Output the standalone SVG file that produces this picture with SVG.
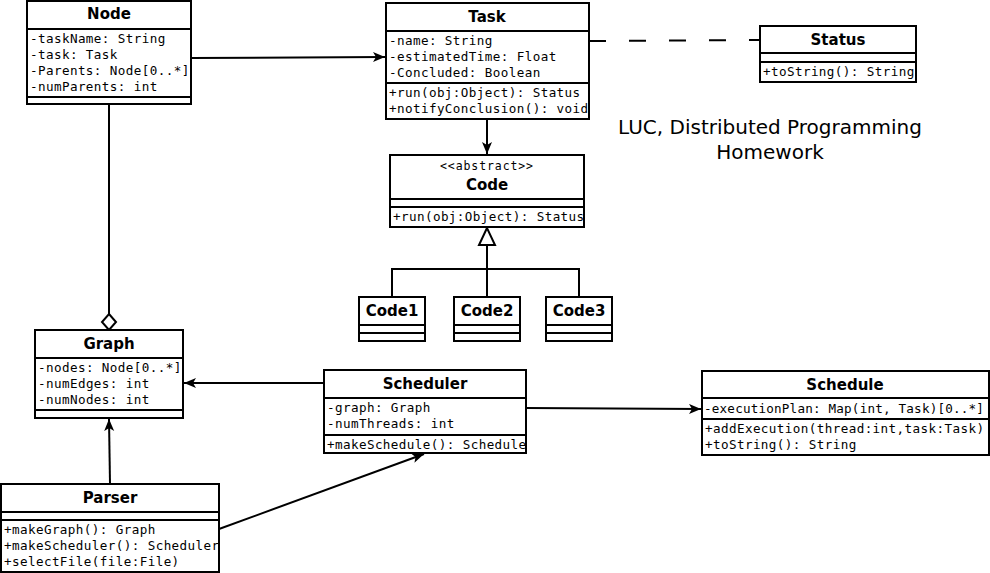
<svg xmlns="http://www.w3.org/2000/svg" width="990" height="573" viewBox="0 0 990 573">
<style>
.box{fill:#fff;stroke:#000;stroke-width:2}
.div{stroke:#000;stroke-width:2;fill:none}
.t{font-family:"DejaVu Sans",sans-serif;font-weight:bold;font-size:15px;text-anchor:middle;fill:#000}
.m{font-family:"DejaVu Sans Mono",monospace;font-size:12.6px;letter-spacing:0.4px;fill:#000}
.st{font-family:"DejaVu Sans Mono",monospace;font-size:11.5px;letter-spacing:0.9px;text-anchor:middle;fill:#000}
.lbl{font-family:"DejaVu Sans",sans-serif;font-size:20px;text-anchor:middle;fill:#000}
.c{stroke:#000;stroke-width:2;fill:none}
</style>
<defs>
<marker id="arr" markerUnits="userSpaceOnUse" markerWidth="13" markerHeight="11" refX="12" refY="5" orient="auto" viewBox="0 0 13 11">
<path d="M0,0 L12,5 L0,10 L3,5 z" fill="#000"/>
</marker>
</defs>
<rect width="990" height="573" fill="#fff"/>
<g id="connectors">
<line class="c" x1="191" y1="58" x2="385" y2="57" marker-end="url(#arr)"/>
<line class="c" x1="487" y1="119" x2="487" y2="154" marker-end="url(#arr)"/>
<line class="c" x1="589" y1="41" x2="760" y2="40" stroke-dasharray="17 23"/>
<path class="c" d="M487,245 V297 M392,297 V269 H579 V297"/>
<polygon points="487,228 479,245 495,245" fill="#fff" stroke="#000" stroke-width="2"/>
<line class="c" x1="109" y1="104" x2="109" y2="314"/>
<polygon points="109,314 116,322 109,330 102,322" fill="#fff" stroke="#000" stroke-width="2"/>
<line class="c" x1="324" y1="383" x2="184" y2="383" marker-end="url(#arr)"/>
<line class="c" x1="110" y1="484" x2="109" y2="419" marker-end="url(#arr)"/>
<line class="c" x1="219" y1="529" x2="424" y2="454" marker-end="url(#arr)"/>
<line class="c" x1="526" y1="408" x2="701" y2="409" marker-end="url(#arr)"/>
</g>
<g id="node-Node">
<rect class="box" x="27" y="1" width="164" height="103"/>
<path class="div" d="M27,29 H191 M27,97 H191"/>
<text class="t" x="109" y="19">Node</text>
<text class="m" x="30" y="43">-taskName: String</text>
<text class="m" x="30" y="59">-task: Task</text>
<text class="m" x="30" y="75">-Parents: Node[0..*]</text>
<text class="m" x="30" y="91">-numParents: int</text>
</g>
<g id="node-Task">
<rect class="box" x="386" y="3" width="203" height="116"/>
<path class="div" d="M386,31 H589 M386,83 H589"/>
<text class="t" x="487" y="22">Task</text>
<text class="m" x="389" y="45">-name: String</text>
<text class="m" x="389" y="61">-estimatedTime: Float</text>
<text class="m" x="389" y="77">-Concluded: Boolean</text>
<text class="m" x="389" y="97">+run(obj:Object): Status</text>
<text class="m" x="389" y="113">+notifyConclusion(): void</text>
</g>
<g id="node-Status">
<rect class="box" x="760" y="26" width="156" height="56"/>
<path class="div" d="M760,53 H916 M760,62 H916"/>
<text class="t" x="838" y="45">Status</text>
<text class="m" x="763" y="76">+toString(): String</text>
</g>
<g id="title">
<text class="lbl" x="770" y="134">LUC, Distributed Programming</text>
<text class="lbl" x="770" y="159">Homework</text>
</g>
<g id="node-Code">
<rect class="box" x="390" y="155" width="194" height="72"/>
<path class="div" d="M390,199 H584 M390,207 H584"/>
<text class="st" x="487" y="170">&lt;&lt;abstract&gt;&gt;</text>
<text class="t" x="487" y="190">Code</text>
<text class="m" x="393" y="221">+run(obj:Object): Status</text>
</g>
<g id="node-Code1">
<rect class="box" x="359" y="297" width="66" height="44"/>
<path class="div" d="M359,325 H425 M359,333 H425"/>
<text class="t" x="392" y="316">Code1</text>
</g>
<g id="node-Code2">
<rect class="box" x="454" y="297" width="66" height="44"/>
<path class="div" d="M454,325 H520 M454,333 H520"/>
<text class="t" x="487" y="316">Code2</text>
</g>
<g id="node-Code3">
<rect class="box" x="546" y="297" width="66" height="44"/>
<path class="div" d="M546,325 H612 M546,333 H612"/>
<text class="t" x="579" y="316">Code3</text>
</g>
<g id="node-Graph">
<rect class="box" x="35" y="330" width="148" height="88"/>
<path class="div" d="M35,358 H183 M35,410 H183"/>
<text class="t" x="109" y="349">Graph</text>
<text class="m" x="38" y="372">-nodes: Node[0..*]</text>
<text class="m" x="38" y="388">-numEdges: int</text>
<text class="m" x="38" y="404">-numNodes: int</text>
</g>
<g id="node-Parser">
<rect class="box" x="1" y="484" width="218" height="88"/>
<path class="div" d="M1,512 H219 M1,520 H219"/>
<text class="t" x="110" y="503">Parser</text>
<text class="m" x="4" y="534">+makeGraph(): Graph</text>
<text class="m" x="4" y="550">+makeScheduler(): Scheduler</text>
<text class="m" x="4" y="566">+selectFile(file:File)</text>
</g>
<g id="node-Scheduler">
<rect class="box" x="324" y="370" width="202" height="83"/>
<path class="div" d="M324,398 H526 M324,435 H526"/>
<text class="t" x="425" y="389">Scheduler</text>
<text class="m" x="327" y="412">-graph: Graph</text>
<text class="m" x="327" y="428">-numThreads: int</text>
<text class="m" x="327" y="449">+makeSchedule(): Schedule</text>
</g>
<g id="node-Schedule">
<rect class="box" x="702" y="371" width="287" height="84"/>
<path class="div" d="M702,398 H989 M702,419 H989"/>
<text class="t" x="845" y="390">Schedule</text>
<text class="m" x="704" y="413" style="letter-spacing:0.2px">-executionPlan: Map(int, Task)[0..*]</text>
<text class="m" x="705" y="433">+addExecution(thread:int,task:Task)</text>
<text class="m" x="705" y="449">+toString(): String</text>
</g>
</svg>
